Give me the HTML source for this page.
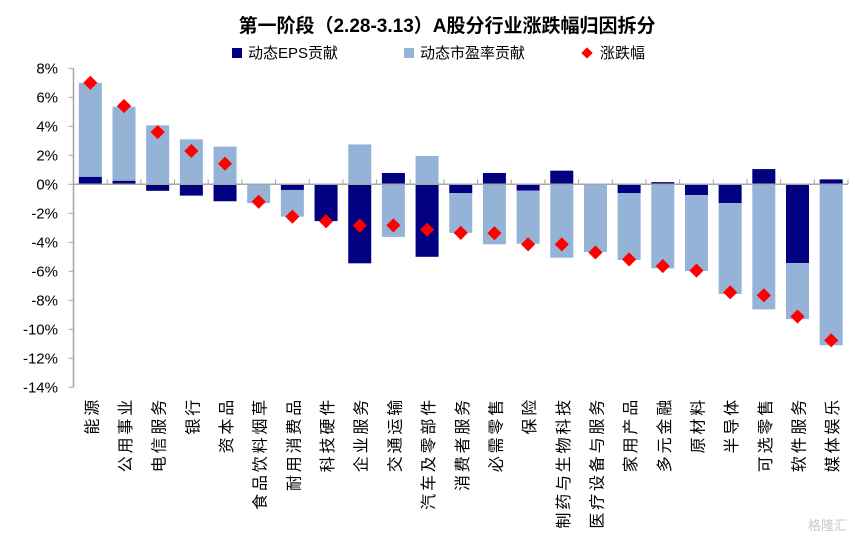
<!DOCTYPE html>
<html><head><meta charset="utf-8">
<style>
html,body{margin:0;padding:0;background:#fff;}
svg{display:block;font-family:"Liberation Sans","Noto Sans CJK SC",sans-serif;}
</style></head>
<body>
<svg id="chart" width="867" height="543" viewBox="0 0 867 543">
<text x="447" y="32" text-anchor="middle" font-size="19" font-weight="bold" fill="#000">第一阶段（2.28-3.13）A股分行业涨跌幅归因拆分</text>
<g>
<rect x="232" y="48" width="10" height="10" fill="#000080"/>
<text x="248" y="58" font-size="15">动态EPS贡献</text>
<rect x="404" y="48" width="10" height="10" fill="#95b3d7"/>
<text x="420" y="58" font-size="15">动态市盈率贡献</text>
<rect x="583" y="49" width="8" height="8" fill="#ff0000" transform="rotate(45 587 53)"/>
<text x="600" y="58" font-size="15">涨跌幅</text>
</g>
<g id="plot"></g>
<text x="808" y="530" font-size="13" fill="#c8c8c8">格隆汇</text>
</svg>
<script>
const categories = ["能源","公用事业","电信服务","银行","资本品","食品饮料烟草","耐用消费品","科技硬件","企业服务","交通运输","汽车及零部件","消费者服务","必需零售","保险","制药与生物科技","医疗设备与服务","家用产品","多元金融","原材料","半导体","可选零售","软件服务","媒体娱乐"];
const epsValues = [0.52,0.25,-0.45,-0.78,-1.17,0.05,-0.39,-2.53,-5.45,0.78,-5.0,-0.6,0.78,-0.44,0.94,-0.05,-0.6,0.15,-0.74,-1.3,1.05,-5.43,0.34];
const peValues = [6.48,5.1,4.07,3.1,2.6,-1.3,-1.84,-0.02,2.75,-3.63,1.95,-2.75,-4.14,-3.66,-5.06,-4.62,-4.62,-5.8,-5.24,-6.27,-8.63,-3.87,-11.1];
const changeValues = [7.0,5.4,3.6,2.3,1.42,-1.2,-2.23,-2.55,-2.85,-2.83,-3.13,-3.35,-3.37,-4.14,-4.14,-4.7,-5.18,-5.64,-5.95,-7.45,-7.66,-9.12,-10.76];
const yTicks = [8,6,4,2,0,-2,-4,-6,-8,-10,-12,-14];

const NS = "http://www.w3.org/2000/svg";
const plot = document.getElementById("plot");
const x0 = 73.5, x1 = 848, yZero = 184.3, pxPer = 14.5;
const step = (x1 - x0) / categories.length;
function yScale(v){ return yZero - v * pxPer; }
function xCenter(i){ return x0 + step * (i + 0.5); }
function mk(tag, attrs){ const e = document.createElementNS(NS, tag); for (const k in attrs) e.setAttribute(k, attrs[k]); plot.appendChild(e); return e; }

let ax = mk("line", {x1:x0, y1:yScale(8), x2:x0, y2:yScale(-14), stroke:"#a6a6a6", "stroke-width":1.5});


yTicks.forEach(t => {
  const tk = mk("line", {x1:x0-5, y1:yScale(t), x2:x0, y2:yScale(t), stroke:"#a6a6a6", "stroke-width":1});
  
  
  const lb = mk("text", {x:58, y:yScale(t)+5, "text-anchor":"end", "font-size":15, fill:"#000"});
  lb.textContent = t + "%";
  
  
});

const bw = 23;
categories.forEach((c, i) => {
  const cx = xCenter(i);
  const e = epsValues[i], p = peValues[i];
  let posBase = 0, negBase = 0;
  [[e, "#000080", "eps-bar"], [p, "#95b3d7", "pe-bar"]].forEach(([v, col, nm]) => {
    let top, bot;
    if (v >= 0) { top = posBase + v; bot = posBase; posBase = top; }
    else { top = negBase; bot = negBase + v; negBase = bot; }
    const r = mk("rect", {x:cx - bw/2, y:yScale(top), width:bw, height:Math.max(0, yScale(bot) - yScale(top)), fill:col});
    
    
  });
  const lab = mk("text", {x:0, y:0, "font-size":16, fill:"#000", "text-anchor":"end", transform:`translate(${cx+7},397) rotate(-90)`, "letter-spacing":"2.8"});
  lab.textContent = c;
  
  
});
let xa = mk("line", {x1:x0, y1:yZero, x2:x1, y2:yZero, stroke:"#a6a6a6", "stroke-width":1.5});


for (let i = 1; i <= categories.length; i++) {
  const tk = mk("line", {x1:x0 + step*i, y1:yZero-5, x2:x0 + step*i, y2:yZero, stroke:"#a6a6a6", "stroke-width":1});
  
  
}
changeValues.forEach((v, i) => {
  const cx = xCenter(i), cy = yScale(v);
  const d = mk("rect", {x:cx-5, y:cy-5, width:10, height:10, fill:"#ff0000", transform:`rotate(45 ${cx} ${cy})`});
  
  
});
</script>
</body></html>
